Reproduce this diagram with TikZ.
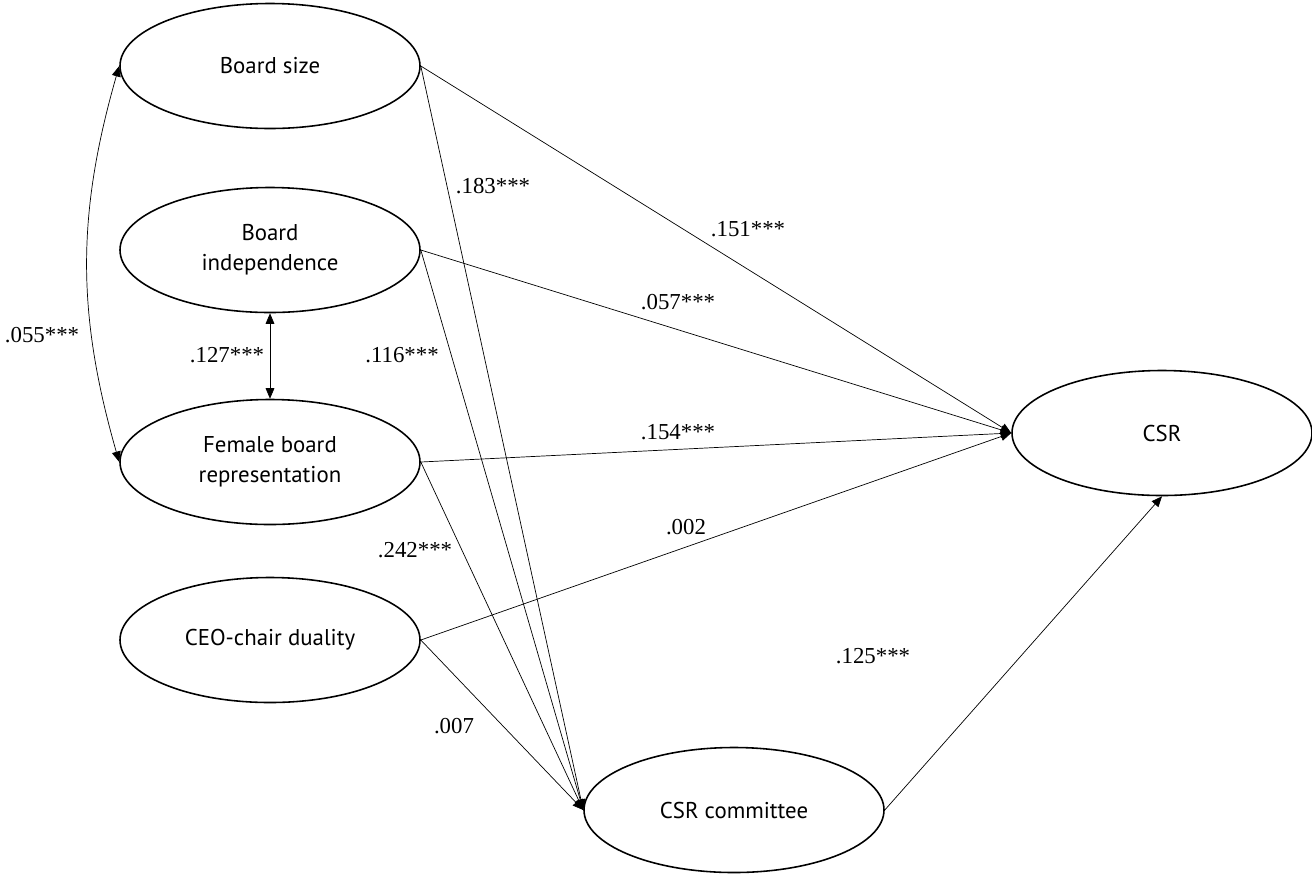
\documentclass[tikz,border=0pt]{standalone}
\usepackage{fontspec}
\setmainfont{Liberation Serif}
\newfontfamily\nodefont{PT Sans}
\usetikzlibrary{arrows.meta}
\usetikzlibrary{shapes.geometric}

\begin{document}
\begin{tikzpicture}[
  var/.style={ellipse, draw, line width=0.9pt, minimum width=6cm, minimum height=2.5cm,
    inner sep=0pt, align=center, font=\nodefont\fontsize{13}{17}\selectfont},
  coef/.style={font=\fontsize{13}{15}\selectfont, inner sep=1pt},
  path/.style={line width=0.4pt, -{Triangle[length=6pt,width=5pt]}},
  cov/.style={line width=0.4pt, {Triangle[length=6pt,width=5pt]}-{Triangle[length=6pt,width=5pt]}}
]
\useasboundingbox (0,0) rectangle (26.24,-17.48);
% draws variables
\node[var] (bsize) at (5.4,-1.32) {Board size};
\node[var] (bind) at (5.4,-5.0) {Board\\independence};
\node[var] (female) at (5.4,-9.24) {Female board\\representation};
\node[var] (ceo) at (5.4,-12.8) {CEO-chair duality};
\node[var] (comm) at (14.68,-16.2) {CSR committee};
\node[var] (csr) at (23.24,-8.66) {CSR};
% draws paths
\draw[path] (bsize.east) -- (csr.west);
\draw[path] (bind.east) -- (csr.west);
\draw[path] (female.east) -- (csr.west);
\draw[path] (ceo.east) -- (csr.west);
\draw[path] (bsize.east) -- (comm.west);
\draw[path] (bind.east) -- (comm.west);
\draw[path] (female.east) -- (comm.west);
\draw[path] (ceo.east) -- (comm.west);
\draw[path] (comm.east) -- (csr.south);
% draws covariances
\draw[cov] (bind.south) -- (female.north);
\draw[cov] (bsize.west) to[out=-106,in=106] (female.west);
% labels paths
\node[coef] (c183) at (9.86,-3.72) {.183***};
\node[coef] (c151) at (14.96,-4.58) {.151***};
\node[coef] (c057) at (13.56,-6.04) {.057***};
\node[coef] (c116) at (8.04,-7.10) {.116***};
\node[coef] (c127) at (4.54,-7.10) {.127***};
\node[coef] (c055) at (0.84,-6.70) {.055***};
\node[coef] (c154) at (13.56,-8.64) {.154***};
\node[coef] (c242) at (8.30,-11.0) {.242***};
\node[coef] (c002) at (13.72,-10.54) {.002};
\node[coef] (c007) at (9.08,-14.52) {.007};
\node[coef] (c125) at (17.46,-13.12) {.125***};
\end{tikzpicture}
\end{document}
